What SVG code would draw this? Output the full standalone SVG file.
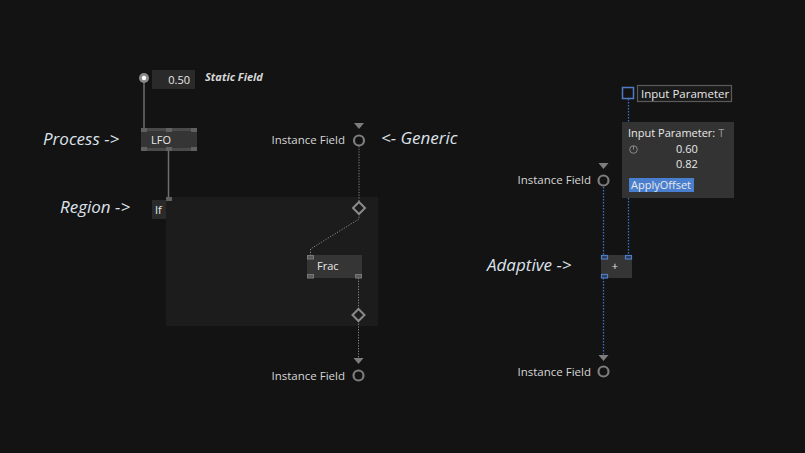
<svg xmlns="http://www.w3.org/2000/svg" width="805" height="453" viewBox="0 0 805 453">
<style>
text{font-family:"Open Sans","Noto Sans","DejaVu Sans",sans-serif}
.note{font-size:17px;font-style:italic;fill:#dde2ea}
.small{font-size:11px;font-style:italic;font-weight:bold;fill:#d8d8d8}
.lbl{font-size:11.5px;fill:#d6d6d6}
.ntxt{font-size:11px;fill:#e8e8e8}
.node{fill:#353535}
.gport{fill:#5a5a5a;stroke:#777;stroke-width:1}
.bport{fill:#2c3a55;stroke:#4f7cc4;stroke-width:1.2}
.pin{fill:none;stroke:#7d7d7d;stroke-width:2.2}
.tri{fill:#7d7d7d}
.gdot{fill:none;stroke:#8a8a8a;stroke-width:1;stroke-dasharray:1.2 1.5}
.bdot{fill:none;stroke:#3f6fc8;stroke-width:1.3;stroke-dasharray:1.5 1.5}
.solid{fill:none;stroke:#6e6e6e;stroke-width:1.5}
</style>
<rect width="805" height="453" fill="#131313"/>

<!-- annotations -->
<text class="note" x="43" y="145">Process -&gt;</text>
<text class="note" x="60" y="213">Region -&gt;</text>
<text class="note" x="381" y="144">&lt;- Generic</text>
<text class="note" x="199" y="271">Adaptive -&gt;</text>
<text class="note" x="487" y="271">Adaptive -&gt;</text>

<!-- region -->
<g id="region">
<rect x="166" y="197" width="212" height="129" fill="#1c1c1c"/>
<rect x="152" y="200" width="14" height="19" fill="#2a2a2a"/>
<text class="ntxt" x="155" y="214">If</text>
</g>

<!-- connectors -->
<g id="connectors">
<line class="solid" x1="144" y1="83" x2="144" y2="128"/>
<line class="solid" x1="168.5" y1="151" x2="168.5" y2="198"/>
<polyline class="gdot" points="359,146 359,202"/>
<polyline class="gdot" points="359,214 359,219 310.5,249 310.5,255"/>
<polyline class="gdot" points="358.5,278 358.5,309"/>
<polyline class="gdot" points="358.5,321 358.5,358"/>
<line class="bdot" x1="628.5" y1="99" x2="628.5" y2="256"/>
<line class="bdot" x1="603.5" y1="187" x2="603.5" y2="256"/>
<line class="bdot" x1="603.5" y1="278" x2="603.5" y2="356"/>
</g>

<!-- static field -->
<g id="static-field">
<circle cx="144" cy="78" r="5" fill="#8a8a8a"/>
<circle cx="144" cy="78" r="2.2" fill="#ffffff"/>
<rect x="152" y="70" width="43" height="19" fill="#2a2a2a"/>
<text class="ntxt" x="190" y="84" text-anchor="end">0.50</text>
<text class="small" x="205" y="81">Static Field</text>
</g>

<!-- LFO -->
<g id="lfo">
<rect class="node" x="141" y="128" width="56" height="23"/>
<rect x="141" y="128" width="56" height="3" fill="#4a4a4a"/>
<rect x="141" y="148" width="56" height="3" fill="#4a4a4a"/>
<rect x="141" y="128" width="6" height="4" fill="#606060"/>
<rect x="166" y="128" width="6" height="4" fill="#606060"/>
<rect x="191" y="128" width="6" height="4" fill="#606060"/>
<rect x="141" y="147" width="6" height="4" fill="#606060"/>
<rect x="166" y="147" width="6" height="4" fill="#606060"/>
<rect x="191" y="147" width="6" height="4" fill="#606060"/>
<text class="ntxt" x="151" y="144">LFO</text>
<rect x="166" y="197" width="6" height="4" fill="#606060"/>
</g>

<!-- Instance field top (generic) -->
<g id="instance-top">
<polygon class="tri" points="354,123 364,123 359,129"/>
<circle class="pin" cx="359" cy="140.5" r="5"/>
<text class="lbl" x="345" y="143.5" text-anchor="end">Instance Field</text>
</g>

<g id="diamond-in">
<polygon points="359,202 365,208 359,214 353,208" fill="none" stroke="#8a8a8a" stroke-width="2"/>
</g>
<g id="diamond-out">
<polygon points="358.5,309 364.5,315 358.5,321 352.5,315" fill="none" stroke="#8a8a8a" stroke-width="2"/>
</g>

<!-- Frac -->
<g id="frac">
<rect class="node" x="307" y="255" width="55" height="23"/>
<rect class="gport" x="307.5" y="255.5" width="6" height="3.5"/>
<rect class="gport" x="307.5" y="274.5" width="6" height="3.5"/>
<rect class="gport" x="355.5" y="274.5" width="6" height="3.5"/>
<text class="ntxt" x="317" y="270">Frac</text>
</g>

<!-- Instance field bottom -->
<g id="instance-bottom">
<polygon class="tri" points="353.5,358 363.5,358 358.5,364"/>
<circle class="pin" cx="358.5" cy="375.5" r="5"/>
<text class="lbl" x="345" y="379.5" text-anchor="end">Instance Field</text>
</g>

<!-- Input parameter -->
<g id="input-parameter">
<rect x="622.5" y="87.5" width="11" height="11" fill="none" stroke="#4f7cc4" stroke-width="1.5"/>
<rect x="637.5" y="85.5" width="94" height="16" fill="#1a1a1a" stroke="#5a5a5a" stroke-width="1.2"/>
<text class="ntxt" x="641" y="97.5" style="font-size:11.5px">Input Parameter</text>
</g>

<!-- Instance field right top -->
<g id="instance-right-top">
<polygon class="tri" points="598.5,163 608.5,163 603.5,169"/>
<circle class="pin" cx="603.5" cy="180.5" r="5"/>
<text class="lbl" x="591" y="184" text-anchor="end">Instance Field</text>
</g>

<!-- tooltip -->
<g id="tooltip">
<rect x="622" y="122" width="112" height="76" fill="#333333"/>
<text class="ntxt" x="628" y="137">Input Parameter: <tspan fill="#9a9a9a">T</tspan></text>
<circle cx="633.5" cy="149.5" r="3.8" fill="none" stroke="#8a8a8a" stroke-width="1"/>
<line x1="633.5" y1="146" x2="633.5" y2="149.5" stroke="#8a8a8a" stroke-width="1"/>
<text class="ntxt" x="676" y="153">0.60</text>
<text class="ntxt" x="676" y="168">0.82</text>
<rect x="629" y="178" width="65" height="14" fill="#4a7fd0"/>
<text class="ntxt" x="631" y="189" fill="#ffffff">ApplyOffset</text>
</g>

<!-- plus -->
<g id="plus">
<rect class="node" x="601" y="255" width="31" height="23"/>
<rect class="bport" x="601.5" y="255.5" width="6" height="3.5"/>
<rect class="bport" x="625.5" y="255.5" width="6" height="3.5"/>
<rect class="bport" x="601.5" y="274.5" width="6" height="3.5"/>
<text class="ntxt" x="615" y="270" text-anchor="middle">+</text>
</g>

<!-- Instance field right bottom -->
<g id="instance-right-bottom">
<polygon class="tri" points="598.5,355 608.5,355 603.5,361"/>
<circle class="pin" cx="603.5" cy="371.5" r="5"/>
<text class="lbl" x="591" y="375.5" text-anchor="end">Instance Field</text>
</g>
</svg>
